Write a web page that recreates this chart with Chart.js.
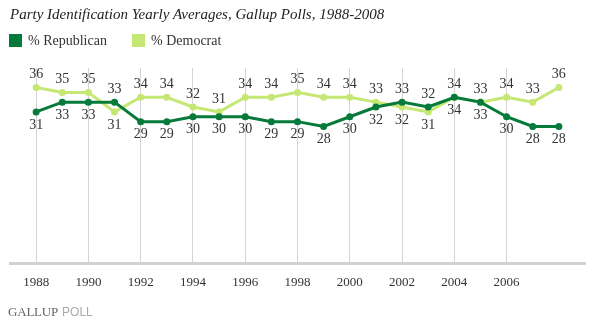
<!DOCTYPE html>
<html>
<head>
<meta charset="utf-8">
<script src="https://cdn.jsdelivr.net/npm/chart.js@4"></script>
<style>
  html, body { margin: 0; padding: 0; background: #fff; }
  #wrap { position: relative; width: 592px; height: 324px; overflow: hidden; }
  canvas { position: absolute; left: 0; top: 0; }
  .title { position: absolute; left: 10px; top: 6px; font: italic 15px "Liberation Serif", serif; color: #222; white-space: nowrap; }
  .leg { position: absolute; top: 33px; font: 14px "Liberation Serif", serif; color: #333; white-space: nowrap; line-height: 16px; }
  .leg span.sw { display: inline-block; width: 13px; height: 13px; vertical-align: -2px; margin-right: 6px; }
  .logo { position: absolute; left: 8px; top: 304px; white-space: nowrap; line-height: 14px; }
  .logo .g { font: 13px "Liberation Serif", serif; color: #666; letter-spacing: -0.2px; }
  .logo .p { font: 12px "Liberation Sans", sans-serif; color: #aaa; }
</style>
</head>
<body>
<div id="wrap">
  <canvas id="c" width="592" height="324"></canvas>
  <div class="title">Party Identification Yearly Averages, Gallup Polls, 1988-2008</div>
  <div class="leg" style="left:9px"><span class="sw" style="background:#067a3a"></span>% Republican</div>
  <div class="leg" style="left:132px"><span class="sw" style="background:#c5e774"></span>% Democrat</div>
  <div class="logo"><span class="g">GALLUP</span> <span class="p">POLL</span></div>
</div>
<script>
const years = [1988,1989,1990,1991,1992,1993,1994,1995,1996,1997,1998,1999,2000,2001,2002,2003,2004,2005,2006,2007,2008];
const republican = [31,33,33,33,29,29,30,30,30,29,29,28,30,32,33,32,34,33,30,28,28];
const democrat   = [36,35,35,31,34,34,32,31,34,34,35,34,34,33,32,31,34,33,34,33,36];
const tickYears = [1988,1990,1992,1994,1996,1998,2000,2002,2004,2006];

const R_COLOR = '#067a3a';
const D_COLOR = '#c5e774';

const labelPlugin = {
  id: 'valueLabels',
  afterDatasetsDraw(chart) {
    const ctx = chart.ctx;
    const rMeta = chart.getDatasetMeta(0);
    const dMeta = chart.getDatasetMeta(1);
    ctx.save();
    ctx.font = '14px "Liberation Serif", serif';
    ctx.fillStyle = '#333';
    ctx.textAlign = 'center';
    ctx.textBaseline = 'middle';
    for (let i = 0; i < years.length; i++) {
      const rAbove = republican[i] > democrat[i];
      const rp = rMeta.data[i], dp = dMeta.data[i];
      ctx.fillText(String(republican[i]), rp.x, rp.y + (rAbove ? -13 : 13));
      ctx.fillText(String(democrat[i]), dp.x, dp.y + (rAbove ? 13 : -13));
    }
    ctx.restore();
  }
};

new Chart(document.getElementById('c'), {
  type: 'line',
  data: {
    datasets: [
      {
        label: '% Republican',
        data: years.map((y, i) => ({ x: y, y: republican[i] })),
        borderColor: R_COLOR, backgroundColor: R_COLOR,
        borderWidth: 3, pointRadius: 3.5, pointBorderWidth: 0,
        tension: 0, order: 0
      },
      {
        label: '% Democrat',
        data: years.map((y, i) => ({ x: y, y: democrat[i] })),
        borderColor: D_COLOR, backgroundColor: D_COLOR,
        borderWidth: 3, pointRadius: 3.5, pointBorderWidth: 0,
        tension: 0, order: 1
      }
    ]
  },
  options: {
    responsive: false,
    animation: false,
    layout: { padding: { left: 10, right: 7, top: 68, bottom: 0 } },
    plugins: { legend: { display: false }, title: { display: false }, tooltip: { enabled: false } },
    scales: {
      x: {
        type: 'linear', min: 1987, max: 2009,
        afterBuildTicks(scale) { scale.ticks = tickYears.map(v => ({ value: v })); },
        afterFit(scale) { scale.height = 61; },
        grid: { color: '#d4d4d4', lineWidth: 1, drawTicks: false },
        border: { color: '#d2d2ce', width: 3 },
        ticks: {
          padding: 12, color: '#333',
          font: { family: '"Liberation Serif", serif', size: 13 },
          callback: v => String(v), autoSkip: false, maxRotation: 0
        }
      },
      y: { display: false, min: 0, max: 40 }
    }
  },
  plugins: [labelPlugin]
});
</script>
</body>
</html>
